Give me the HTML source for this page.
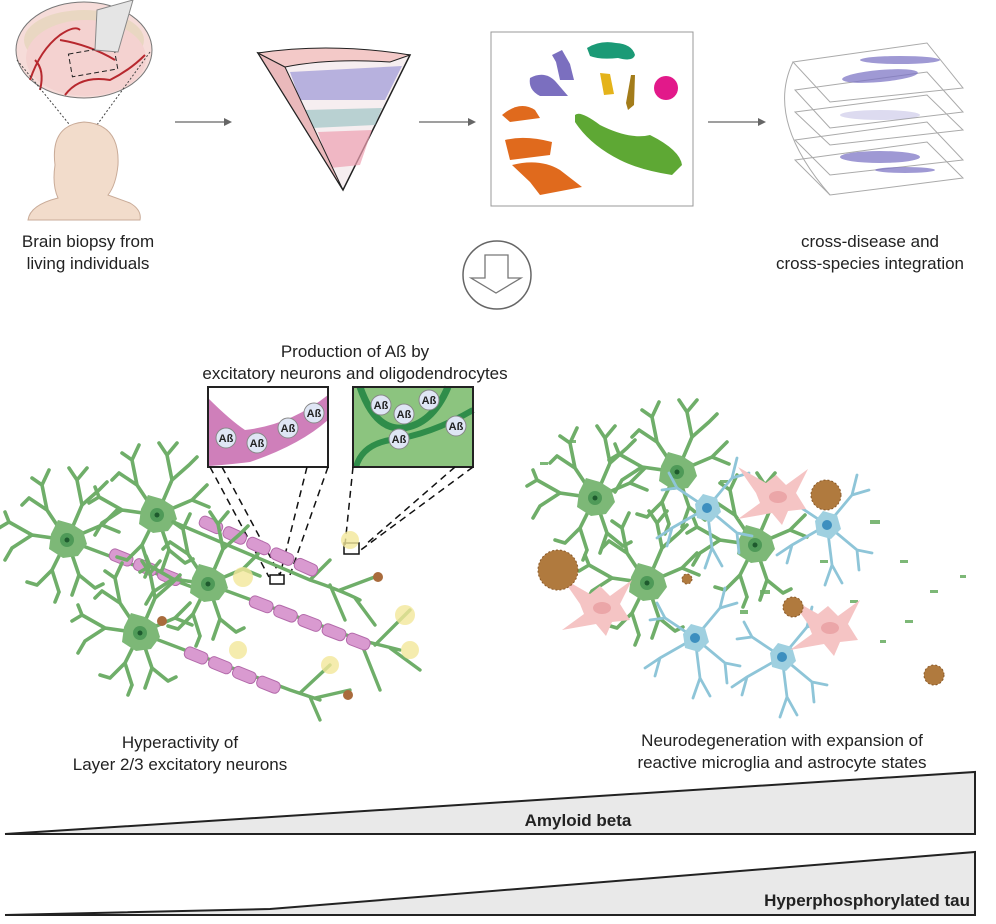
<!DOCTYPE html>
<html><head><meta charset="utf-8"><style>
html,body{margin:0;padding:0;background:#fff}
svg{display:block}
text{font-family:"Liberation Sans",sans-serif;fill:#222}
</style></head><body>
<svg width="996" height="924" viewBox="0 0 996 924" xmlns="http://www.w3.org/2000/svg">
<defs>
<g id="neu">
  <g stroke="#6fae69" stroke-width="3.6" fill="none" stroke-linecap="round">
    <path d="M0,0 L-20,-30 L-25,-55 M-20,-30 L-38,-42 M-25,-55 L-35,-62 M-25,-55 L-18,-70 M-38,-42 L-45,-35"/>
    <path d="M0,0 L15,-35 L10,-60 M15,-35 L32,-50 M10,-60 L2,-72 M10,-60 L20,-72 M32,-50 L40,-58"/>
    <path d="M0,0 L-35,-5 L-58,-18 M-35,-5 L-55,8 M-58,-18 L-68,-12 M-55,8 L-62,20 M-58,-18 L-62,-28"/>
    <path d="M0,0 L-15,30 L-30,45 M-15,30 L-8,52 M-30,45 L-40,42 M-8,52 L-12,62"/>
    <path d="M0,0 L12,35 L28,48 M12,35 L5,55 M28,48 L36,44"/>
    <path d="M0,0 L35,-15 L50,-30 M35,-15 L52,-8"/>
  </g>
  <path d="M-16,-6 L-9,-20 L5,-16 L16,-9 L20,4 L11,16 L-4,18 L-18,9 Z" fill="#7db877"/>
  <circle r="7" fill="#4f9a58"/><circle r="2.5" fill="#1e5a2e"/>
</g>
<g id="ast">
  <g stroke="#8ec5d8" stroke-width="2.8" fill="none" stroke-linecap="round">
    <path d="M0,0 L-30,-20 L-45,-18 M-30,-20 L-38,-35"/>
    <path d="M0,0 L25,-30 L30,-50 M25,-30 L42,-35"/>
    <path d="M0,0 L-35,20 L-50,30 M-35,20 L-40,38"/>
    <path d="M0,0 L30,25 L45,28 M30,25 L32,45"/>
    <path d="M0,0 L5,40 L-2,60 M5,40 L15,58"/>
  </g>
  <path d="M-12,-4 L-4,-14 L10,-10 L14,4 L4,14 L-10,10 Z" fill="#9fd0e0"/>
  <circle r="5" fill="#3d8fbf"/>
</g>
<g id="mic">
  <path d="M-22,-4 L-40,-30 L-12,-14 L-2,-22 L8,-12 L30,-28 L18,-4 L28,12 L10,14 L4,28 L-6,16 L-40,22 L-18,6 Z" fill="#f5c4c4"/>
  <ellipse rx="9" ry="6" fill="#eba6a8"/>
</g>
<g id="seg">
  <rect x="0" y="-6" width="24" height="12" rx="5" fill="#d99ad0" stroke="#b36aaa"/>
</g>
</defs>

<!-- Top: bowl -->
<ellipse cx="84" cy="50" rx="68" ry="48" fill="#f6dcd9" stroke="#777" stroke-width="1"/>
<ellipse cx="84" cy="40" rx="60" ry="30" fill="#e9d7c2"/>
<ellipse cx="86" cy="58" rx="60" ry="38" fill="#f4d2d0"/>
<g stroke="#b7282e" stroke-width="2" fill="none">
<path d="M30,80 Q40,50 60,35 Q75,25 80,30"/><path d="M65,95 Q80,75 110,80 Q130,70 145,55"/><path d="M60,40 Q90,45 115,60"/><path d="M40,90 Q45,70 35,60"/>
</g>
<rect x="70" y="50" width="46" height="23" fill="none" stroke="#222" stroke-dasharray="5,3" transform="rotate(-10 93 61)"/>
<path d="M97,10 L133,0 L118,52 L95,50 Z" fill="#e5e5e5" stroke="#888"/>
<line x1="17" y1="60" x2="82" y2="140" stroke="#444" stroke-dasharray="2,2"/>
<line x1="150" y1="52" x2="86" y2="140" stroke="#444" stroke-dasharray="2,2"/>
<!-- head -->
<path d="M55,165 Q50,125 84,122 Q120,124 118,165 Q116,185 108,195 L130,203 Q142,210 140,220 L28,220 Q30,205 58,198 Q52,185 55,165 Z" fill="#f2dccb" stroke="#c9ab98"/>
<text x="88" y="247" font-size="17" text-anchor="middle">Brain biopsy from</text>
<text x="88" y="269" font-size="17" text-anchor="middle">living individuals</text>

<!-- arrows -->
<g stroke="#666" stroke-width="1.3"><line x1="175" y1="122" x2="228" y2="122"/><line x1="419" y1="122" x2="472" y2="122"/><line x1="708" y1="122" x2="762" y2="122"/></g>
<g fill="#666"><path d="M232,122 L224,118 L224,126Z"/><path d="M476,122 L468,118 L468,126Z"/><path d="M766,122 L758,118 L758,126Z"/></g>

<!-- wedge -->
<path d="M258,53 L410,55 L343,190 Z" fill="#f6eef0" stroke="#222" stroke-width="1.5"/>
<path d="M290,72 L402,66 L385,100 L300,100 Z" fill="#9d97d6" opacity=".7"/>
<path d="M305,110 L382,108 L375,125 L312,128 Z" fill="#9fc4c4" opacity=".7"/>
<path d="M318,132 L372,130 L360,165 L330,168 Z" fill="#ee9fb0" opacity=".7"/>
<path d="M258,53 L285,67 L343,190 Z" fill="#eab9bb" stroke="#222"/>
<path d="M258,53 Q330,42 410,55 L390,62 Q330,58 285,67 Z" fill="#f3c9c8" stroke="#222"/>

<!-- UMAP -->
<rect x="491" y="32" width="202" height="174" fill="#fff" stroke="#999"/>
<path d="M587,48 Q600,40 616,43 Q632,44 635,55 Q633,62 618,58 Q600,60 590,56 Z" fill="#1b9a76"/>
<path d="M552,55 L562,50 L570,64 L574,80 L560,80 L556,62 Z" fill="#7b6fbf"/>
<path d="M530,78 Q545,70 556,82 L568,96 L540,96 Q528,90 530,78 Z" fill="#7b6fbf"/>
<path d="M600,73 L610,74 L614,94 L604,95 Z" fill="#e4b31a"/>
<path d="M631,75 L635,75 L634,105 L628,110 L626,103 Z" fill="#a37c1a"/>
<ellipse cx="666" cy="88" rx="12" ry="12" fill="#e2198a"/>
<path d="M502,115 Q520,100 535,110 L540,118 L510,122 Z" fill="#e06a1d"/>
<path d="M505,140 Q525,135 552,142 L550,155 L510,160 Z" fill="#e06a1d"/>
<path d="M512,165 Q540,158 560,170 L582,187 L540,195 L530,182 Z" fill="#e06a1d"/>
<path d="M575,115 Q580,110 600,125 Q630,140 650,135 Q680,150 682,165 L672,175 Q640,170 620,160 Q590,145 575,122 Z" fill="#5ea834"/>

<!-- layers -->
<g fill="none" stroke="#aaa" stroke-width="1">
<path d="M793,62 L927,43 L963,88 L830,102 Z"/>
<path d="M795,90 L927,72 L963,112 L830,128 Z"/>
<path d="M795,112 L927,95 L963,130 L830,145 Z"/>
<path d="M795,140 L927,122 L963,160 L830,175 Z"/>
<path d="M795,160 L927,142 L963,178 L830,195 Z"/>
<path d="M793,62 Q765,120 830,195"/>
</g>
<g fill="#7f77c6" opacity=".75">
<ellipse cx="880" cy="76" rx="38" ry="6" transform="rotate(-5 880 76)"/>
<ellipse cx="900" cy="60" rx="40" ry="4"/>
<ellipse cx="880" cy="115" rx="40" ry="5" opacity=".35"/>
<ellipse cx="880" cy="157" rx="40" ry="6"/>
<ellipse cx="905" cy="170" rx="30" ry="3"/>
</g>
<text x="870" y="247" font-size="17" text-anchor="middle">cross-disease and</text>
<text x="870" y="269" font-size="17" text-anchor="middle">cross-species integration</text>

<!-- down arrow -->
<circle cx="497" cy="275" r="34" fill="#fff" stroke="#666" stroke-width="1.5"/>
<path d="M485,255 L508,255 L508,278 L521,278 L496,293 L471,278 L485,278 Z" fill="#fff" stroke="#777" stroke-width="1.3"/>

<!-- production text & boxes -->
<text x="355" y="357" font-size="17" text-anchor="middle">Production of Aß by</text>
<text x="355" y="379" font-size="17" text-anchor="middle">excitatory neurons and oligodendrocytes</text>
<rect x="208" y="387" width="120" height="80" fill="#fff"/>
<path d="M208,398 Q230,420 245,430 Q290,425 328,395 L328,420 Q300,445 250,462 Q225,465 208,466 Z" fill="#cf7fba"/>
<rect x="208" y="387" width="120" height="80" fill="none" stroke="#222" stroke-width="2"/>
<rect x="353" y="387" width="120" height="80" fill="#8cc47f"/>
<path d="M360,387 Q375,430 402,428 Q432,425 448,387" fill="#8cc47f" stroke="#2f8d4a" stroke-width="7"/>
<path d="M356,467 Q362,445 390,440 Q430,435 473,410" fill="none" stroke="#2f8d4a" stroke-width="6"/>
<rect x="353" y="387" width="120" height="80" fill="none" stroke="#222" stroke-width="2"/>
<g font-size="11" font-weight="bold" text-anchor="middle">
<circle cx="226" cy="438" r="10" fill="#dfe6f5" stroke="#888"/><text x="226" y="442">Aß</text>
<circle cx="257" cy="443" r="10" fill="#dfe6f5" stroke="#888"/><text x="257" y="447">Aß</text>
<circle cx="288" cy="428" r="10" fill="#dfe6f5" stroke="#888"/><text x="288" y="432">Aß</text>
<circle cx="314" cy="413" r="10" fill="#dfe6f5" stroke="#888"/><text x="314" y="417">Aß</text>
<circle cx="381" cy="405" r="10" fill="#dfe6f5" stroke="#888"/><text x="381" y="409">Aß</text>
<circle cx="404" cy="414" r="10" fill="#dfe6f5" stroke="#888"/><text x="404" y="418">Aß</text>
<circle cx="429" cy="400" r="10" fill="#dfe6f5" stroke="#888"/><text x="429" y="404">Aß</text>
<circle cx="399" cy="439" r="10" fill="#dfe6f5" stroke="#888"/><text x="399" y="443">Aß</text>
<circle cx="456" cy="426" r="10" fill="#dfe6f5" stroke="#888"/><text x="456" y="430">Aß</text>
</g>
<g stroke="#111" stroke-width="1.5" stroke-dasharray="7,5" fill="none">
<line x1="210" y1="467" x2="269" y2="577"/><line x1="222" y1="467" x2="280" y2="575"/>
<line x1="307" y1="467" x2="280" y2="575"/><line x1="328" y1="467" x2="290" y2="575"/>
<line x1="353" y1="467" x2="345" y2="545"/><line x1="473" y1="467" x2="358" y2="552"/><line x1="455" y1="467" x2="365" y2="545"/>
</g>
<rect x="270" y="575" width="14" height="9" fill="none" stroke="#111" stroke-width="1.5"/>
<rect x="344" y="543" width="15" height="11" fill="none" stroke="#111" stroke-width="1.5"/>

<!-- left neurons -->
<g stroke="#6fae69" stroke-width="3.4" fill="none" stroke-linecap="round">
<path d="M157,515 L310,580 Q340,590 360,600 M330,585 L345,620 M340,590 L380,575 M310,580 L330,560 M355,598 L375,625"/>
<path d="M67,540 L200,590"/>
<path d="M208,584 L360,640 L400,650 M360,640 L380,690 M375,645 L410,610 M390,648 L420,670"/>
<path d="M140,633 L290,690 L320,700 M300,693 L330,665 M310,697 L320,720 M315,698 L350,690"/>
</g>
<g>
<g transform="translate(200,520) rotate(24)"><use href="#seg" x="0"/><use href="#seg" x="26"/><use href="#seg" x="52"/><use href="#seg" x="78"/><use href="#seg" x="104"/></g>
<g transform="translate(110,553) rotate(22)"><use href="#seg" x="0"/><use href="#seg" x="26"/><use href="#seg" x="52"/></g>
<g transform="translate(250,600) rotate(21)"><use href="#seg" x="0"/><use href="#seg" x="26"/><use href="#seg" x="52"/><use href="#seg" x="78"/><use href="#seg" x="104"/></g>
<g transform="translate(185,651) rotate(22)"><use href="#seg" x="0"/><use href="#seg" x="26"/><use href="#seg" x="52"/><use href="#seg" x="78"/></g>
</g>
<use href="#neu" x="67" y="540"/>
<use href="#neu" x="157" y="515"/>
<use href="#neu" x="208" y="584"/>
<use href="#neu" x="140" y="633"/>
<g fill="#f3e79a" opacity=".8">
<circle cx="243" cy="577" r="10"/><circle cx="238" cy="650" r="9"/><circle cx="350" cy="540" r="9"/><circle cx="405" cy="615" r="10"/><circle cx="410" cy="650" r="9"/><circle cx="330" cy="665" r="9"/>
</g>
<g fill="#a96b3c"><circle cx="378" cy="577" r="5"/><circle cx="162" cy="621" r="5"/><circle cx="348" cy="695" r="5"/></g>

<!-- right side -->
<g fill="#7db877">
<rect x="540" y="462" width="8" height="3"/><rect x="570" y="440" width="6" height="3"/><rect x="720" y="480" width="8" height="3"/><rect x="870" y="520" width="10" height="4"/><rect x="900" y="560" width="8" height="3"/><rect x="930" y="590" width="8" height="3"/><rect x="960" y="575" width="6" height="3"/><rect x="850" y="600" width="8" height="3"/><rect x="760" y="590" width="10" height="4"/><rect x="820" y="560" width="8" height="3"/><rect x="880" y="640" width="6" height="3"/><rect x="740" y="610" width="8" height="4"/><rect x="905" y="620" width="8" height="3"/>
</g>
<use href="#neu" x="595" y="498"/>
<use href="#neu" x="677" y="472"/>
<use href="#neu" x="755" y="545"/>
<use href="#neu" x="647" y="583"/>
<use href="#ast" x="707" y="508"/>
<use href="#ast" x="827" y="525"/>
<use href="#ast" x="695" y="638"/>
<use href="#ast" x="782" y="657"/>
<use href="#mic" x="778" y="497"/>
<use href="#mic" x="602" y="608"/>
<use href="#mic" x="830" y="628"/>
<g fill="#b07a3e" stroke="#8a5a2a" stroke-dasharray="2,2">
<circle cx="558" cy="570" r="20"/><circle cx="826" cy="495" r="15"/><circle cx="793" cy="607" r="10"/><circle cx="934" cy="675" r="10"/><circle cx="687" cy="579" r="5"/>
</g>

<text x="180" y="748" font-size="17" text-anchor="middle">Hyperactivity of</text>
<text x="180" y="770" font-size="17" text-anchor="middle">Layer 2/3 excitatory neurons</text>
<text x="782" y="746" font-size="17" text-anchor="middle">Neurodegeneration with expansion of</text>
<text x="782" y="768" font-size="17" text-anchor="middle">reactive microglia and astrocyte states</text>

<!-- wedges -->
<path d="M5,834 L975,772 L975,834 Z" fill="#e9e9e9" stroke="#222" stroke-width="2"/>
<text x="578" y="826" font-size="17" font-weight="bold" text-anchor="middle">Amyloid beta</text>
<path d="M5,915 L270,909 L975,852 L975,915 Z" fill="#e9e9e9" stroke="#222" stroke-width="2"/>
<text x="970" y="906" font-size="17" font-weight="bold" text-anchor="end">Hyperphosphorylated tau</text>
</svg>
</body></html>
